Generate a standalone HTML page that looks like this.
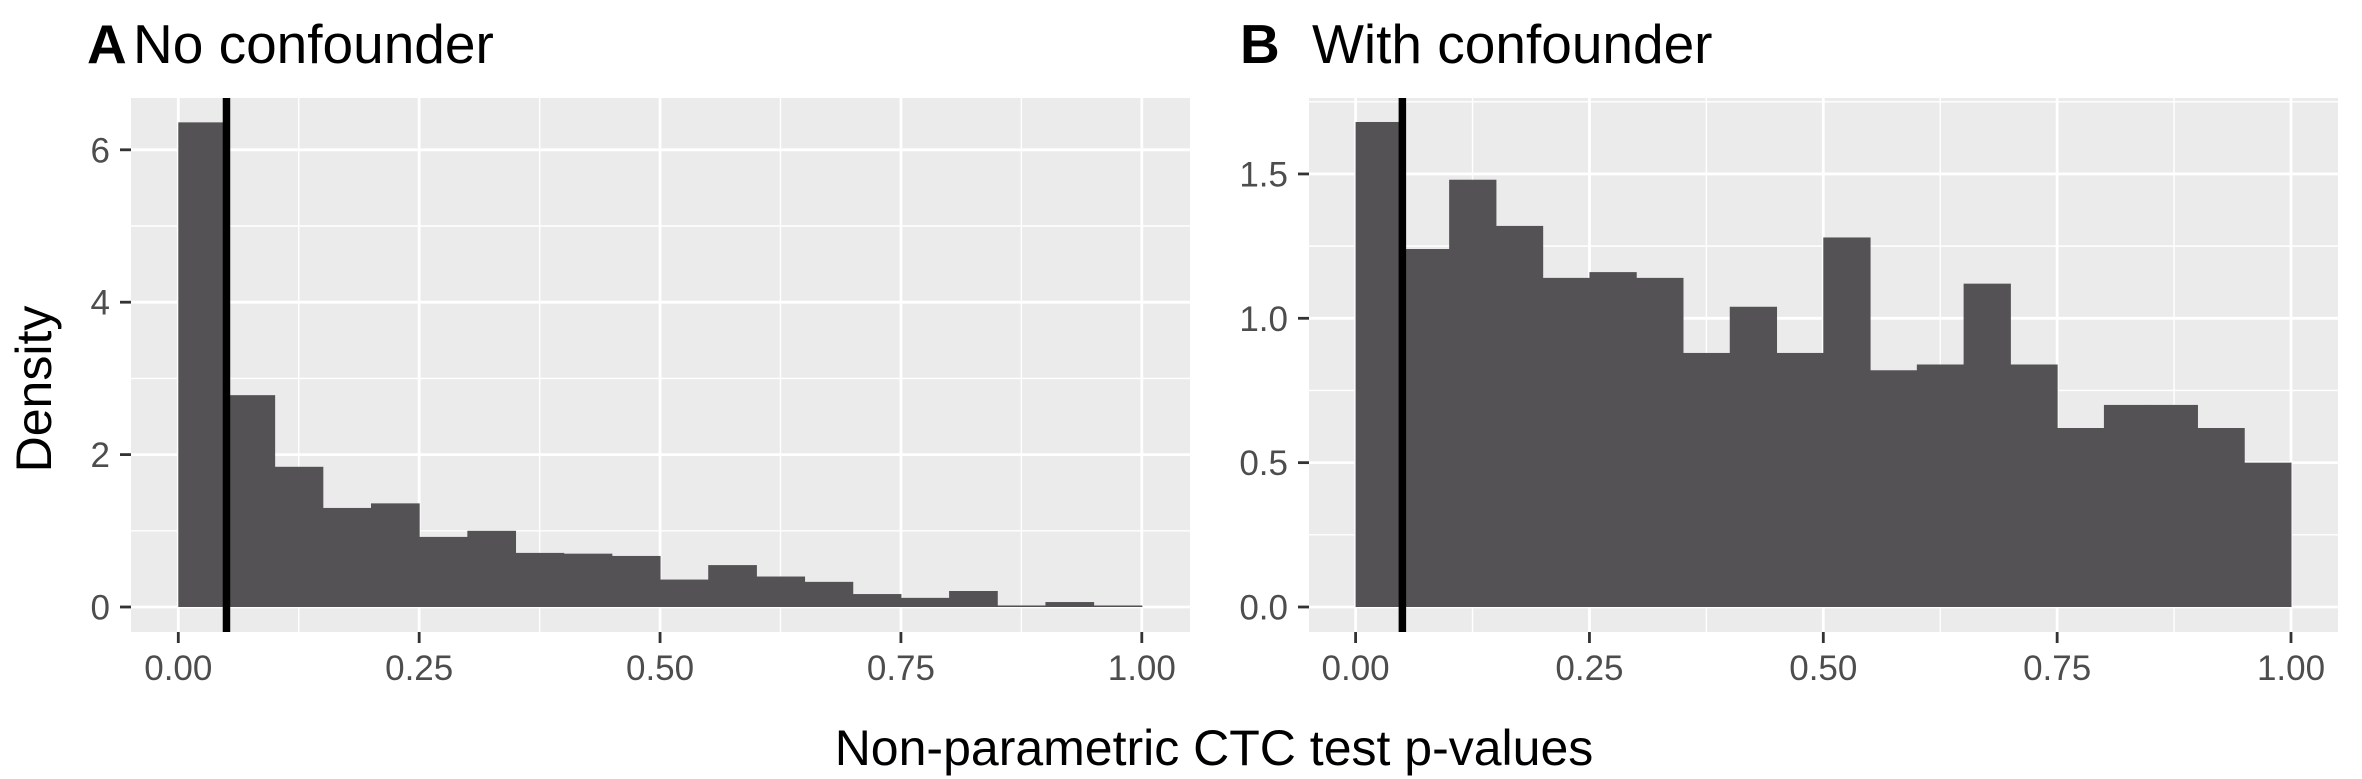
<!DOCTYPE html>
<html><head><meta charset="utf-8"><style>
html,body{margin:0;padding:0;background:#fff;}
svg{display:block;font-family:"Liberation Sans",Arial,sans-serif;}
</style></head><body>
<svg id="chart" width="2362" height="779" viewBox="0 0 2362 779" xmlns="http://www.w3.org/2000/svg">
<text x="87" y="63" font-size="55" font-weight="bold">A</text>
<text x="133" y="63" font-size="55">No confounder</text>
<text x="1240" y="63" font-size="55" font-weight="bold">B</text>
<text x="1312" y="63" font-size="55">With confounder</text>
<text x="1214" y="765" font-size="50" text-anchor="middle">Non-parametric CTC test p-values</text>
<text transform="translate(51,389) rotate(-90)" font-size="50" text-anchor="middle">Density</text>
<g id="panelA"></g>
<g id="panelB"></g>
</svg>
<script>
const binStarts = [0,0.05,0.1,0.15,0.2,0.25,0.3,0.35,0.4,0.45,0.5,0.55,0.6,0.65,0.7,0.75,0.8,0.85,0.9,0.95];
const densityA = [6.36,2.78,1.84,1.30,1.36,0.92,1.00,0.71,0.70,0.67,0.36,0.55,0.40,0.33,0.17,0.12,0.21,0.02,0.065,0.02];
const densityB = [1.68,1.24,1.48,1.32,1.14,1.16,1.14,0.88,1.04,0.88,1.28,0.82,0.84,1.12,0.84,0.62,0.70,0.70,0.62,0.50];
const xTicks = [0,0.25,0.5,0.75,1];
const xTickLabels = ["0.00","0.25","0.50","0.75","1.00"];
const yTicksA = [0,2,4,6];
const yTickLabelsA = ["0","2","4","6"];
const yTicksB = [0,0.5,1,1.5];
const yTickLabelsB = ["0.0","0.5","1.0","1.5"];
const cutoff = 0.05;
const binWidth = 0.05;

const NS="http://www.w3.org/2000/svg";
function mk(tag, attrs, parent){const e=document.createElementNS(NS,tag);for(const k in attrs)e.setAttribute(k,attrs[k]);parent.appendChild(e);return e;}

function drawPanel(g, cfg){
  const sx = v => cfg.x0 + v*(cfg.x1-cfg.x0);
  const sy = v => cfg.y0 - v*cfg.yUnit;
  const bg = mk('rect',{x:cfg.left,y:98,width:cfg.right-cfg.left,height:534,fill:'#ebebeb'},g);
  
  
  // minor x grid
  for(let i=0;i<xTicks.length-1;i++){
    const m=(xTicks[i]+xTicks[i+1])/2;
    const l=mk('line',{x1:sx(m),x2:sx(m),y1:98,y2:632,stroke:'#fff','stroke-width':1.4},g);
    
    
  }
  for(let i=0;i<cfg.yTicks.length;i++){
    const m=cfg.yTicks[i]+(cfg.yTicks[1]-cfg.yTicks[0])/2;
    const y=sy(m);
    if(y<98||y>632)continue;
    const l=mk('line',{x1:cfg.left,x2:cfg.right,y1:y,y2:y,stroke:'#fff','stroke-width':1.4},g);
    
    
  }
  xTicks.forEach((t,i)=>{
    const x=sx(t);
    const l=mk('line',{x1:x,x2:x,y1:98,y2:632,stroke:'#fff','stroke-width':2.8},g);
    
    
    const tk=mk('line',{x1:x,x2:x,y1:632,y2:643,stroke:'#333','stroke-width':2.8},g);
    
    
    const tx=mk('text',{x:x,y:680,'font-size':35,fill:'#4d4d4d','text-anchor':'middle'},g);
    tx.textContent=xTickLabels[i];
    
    
  });
  cfg.yTicks.forEach((t,i)=>{
    const y=sy(t);
    const l=mk('line',{x1:cfg.left,x2:cfg.right,y1:y,y2:y,stroke:'#fff','stroke-width':2.8},g);
    
    
    const tk=mk('line',{x1:cfg.left-11,x2:cfg.left,y1:y,y2:y,stroke:'#333','stroke-width':2.8},g);
    
    
    const tx=mk('text',{x:cfg.left-21,y:y+12.5,'font-size':35,fill:'#4d4d4d','text-anchor':'end'},g);
    tx.textContent=cfg.yLabels[i];
    
    
  });
  cfg.data.forEach((v,i)=>{
    const xa=sx(binStarts[i]), xb=sx(binStarts[i]+binWidth);
    const r=mk('rect',{x:xa,y:sy(v),width:xb-xa+0.5,height:sy(0)-sy(v),fill:'#545254'},g);
    
    
  });
  const vl=mk('line',{x1:sx(cutoff),x2:sx(cutoff),y1:98,y2:632,stroke:'#000','stroke-width':7.5},g);
  
  
}
drawPanel(document.getElementById('panelA'),{left:131,right:1190,x0:178.3,x1:1141.8,y0:607,yUnit:76.2,data:densityA,yTicks:yTicksA,yLabels:yTickLabelsA});
drawPanel(document.getElementById('panelB'),{left:1309,right:2338,x0:1355.6,x1:2291,y0:607,yUnit:288.7,data:densityB,yTicks:yTicksB,yLabels:yTickLabelsB});
</script>
</body></html>
